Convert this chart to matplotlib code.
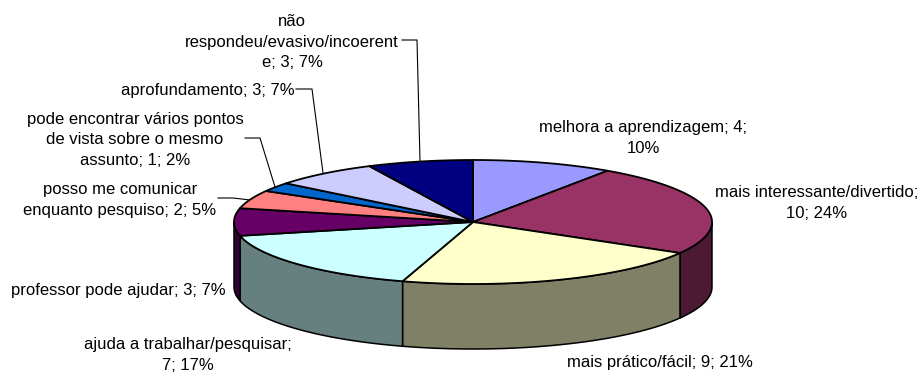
import numpy as np
import matplotlib
matplotlib.use("Agg")
import matplotlib.pyplot as plt

plt.rcParams['font.family'] = ['Liberation Sans', 'DejaVu Sans']

values = [4, 10, 9, 7, 3, 2, 1, 3, 3]
labels = [
    'melhora a aprendizagem; 4;\n10%',
    'mais interessante/divertido;\n10; 24%',
    'mais prático/fácil; 9; 21%',
    'ajuda a trabalhar/pesquisar;\n7; 17%',
    'professor pode ajudar; 3; 7%',
    'posso me comunicar\nenquanto pesquiso; 2; 5%',
    'pode encontrar vários pontos\nde vista sobre o mesmo\nassunto; 1; 2%',
    'aprofundamento; 3; 7%',
    'não\nrespondeu/evasivo/incoerent\ne; 3; 7%',
]
colors = ['#9999FF', '#993366', '#FFFFCC', '#CCFFFF', '#660066',
          '#FF8080', '#0066CC', '#CCCCFF', '#000080']
side_colors = ['#4D4D80', '#4D1A33', '#808066', '#668080', '#330033',
               '#804040', '#003366', '#666680', '#000040']
label_pos = [(643, 138), (817, 203), (660, 362), (188, 355), (118, 290),
             (120, 200), (135, 140), (208, 90), (292, 42)]
leaders = {
    5: [(218, 198), (233, 198), (250, 200)],
    6: [(245, 138), (260, 138), (275, 187)],
    7: [(296, 89), (312, 89), (323, 173)],
    8: [(402, 40), (417, 40), (420, 161)],
}

cx, cy = 473, 222
rx, ry = 239, 62
depth = 65


def rim(a0, a1):
    # angles in degrees, clockwise from the top of the pie
    t = np.radians(np.linspace(a0, a1, max(int(abs(a1 - a0)) * 2, 2) + 1))
    return cx + rx * np.sin(t), cy - ry * np.cos(t)


fig = plt.figure(figsize=(9.22, 3.72), dpi=100)
ax = fig.add_axes([0, 0, 1, 1])
ax.set_xlim(0, 922)
ax.set_ylim(372, 0)
ax.axis('off')

edges = np.cumsum([0] + values) / sum(values) * 360

# front wall, only the part between 90 and 270 degrees shows
for i in range(len(values)):
    a0 = max(edges[i], 90)
    a1 = min(edges[i + 1], 270)
    if a1 <= a0:
        continue
    x, y = rim(a0, a1)
    ax.fill(np.r_[x, x[::-1]], np.r_[y, y[::-1] + depth],
            facecolor=side_colors[i], edgecolor='black', lw=1.1, zorder=2)

# top of the pie
for i in range(len(values)):
    x, y = rim(edges[i], edges[i + 1])
    ax.fill(np.r_[cx, x], np.r_[cy, y],
            facecolor=colors[i], edgecolor='black', lw=1.3, joinstyle='round', zorder=3)

for i, pts in leaders.items():
    xs, ys = zip(*pts)
    ax.plot(xs, ys, color='black', lw=0.8, zorder=1)

for lab, (x, y) in zip(labels, label_pos):
    ax.text(x, y, lab, ha='center', va='center', fontsize=11.95, color='black',
            linespacing=1.48, multialignment='center', zorder=4)

plt.savefig("out.png", dpi=100)
